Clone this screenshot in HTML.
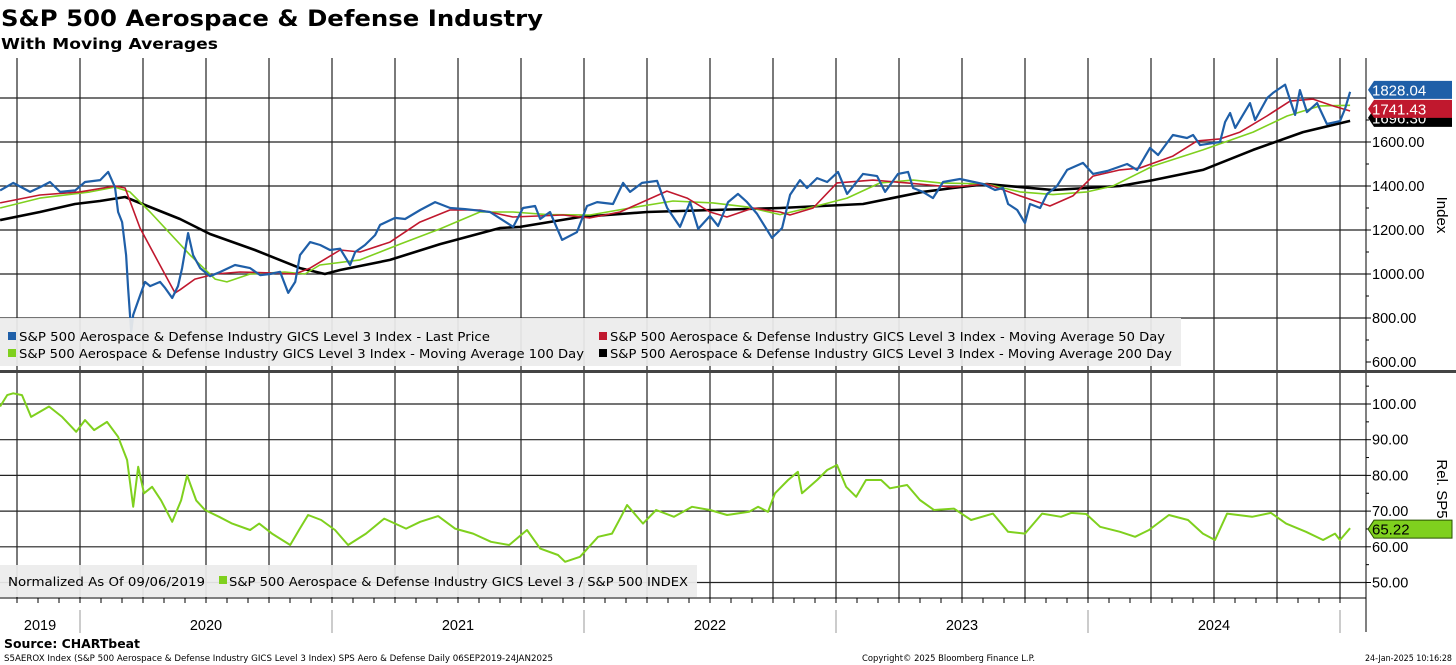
<!DOCTYPE html>
<html><head><meta charset="utf-8"><style>
html,body{margin:0;padding:0;background:#fff;}
svg{display:block;font-family:"Liberation Sans",sans-serif;}
.dv{font-family:"DejaVu Sans","Liberation Sans",sans-serif;}
</style></head><body>
<svg id="chart" width="1456" height="665" viewBox="0 0 1456 665" xmlns="http://www.w3.org/2000/svg">
<text class="dv" x="1" y="26" font-size="22" font-weight="bold" fill="#000" textLength="542" lengthAdjust="spacingAndGlyphs">S&amp;P 500 Aerospace &amp; Defense Industry</text>
<text class="dv" x="1" y="49" font-size="15" font-weight="bold" fill="#000" textLength="217" lengthAdjust="spacingAndGlyphs">With Moving Averages</text>
<g id="grid"></g>
<g id="series"></g>
<g id="axes"></g>
<rect x="0" y="318" width="1181" height="48" fill="#ececec" opacity="0.93"/>
<rect x="8" y="332" width="8" height="8" fill="#1f5fa8"/>
<text class="dv" x="19" y="341" font-size="12.5" fill="#000" textLength="471" lengthAdjust="spacingAndGlyphs">S&amp;P 500 Aerospace &amp; Defense Industry GICS Level 3 Index - Last Price</text>
<rect x="8" y="349" width="8" height="8" fill="#7fd01e"/>
<text class="dv" x="19" y="358" font-size="12.5" fill="#000" textLength="565" lengthAdjust="spacingAndGlyphs">S&amp;P 500 Aerospace &amp; Defense Industry GICS Level 3 Index - Moving Average 100 Day</text>
<rect x="599" y="332" width="8" height="8" fill="#c0182e"/>
<text class="dv" x="610" y="341" font-size="12.5" fill="#000" textLength="555" lengthAdjust="spacingAndGlyphs">S&amp;P 500 Aerospace &amp; Defense Industry GICS Level 3 Index - Moving Average 50 Day</text>
<rect x="599" y="349" width="8" height="8" fill="#000"/>
<text class="dv" x="610" y="358" font-size="12.5" fill="#000" textLength="562" lengthAdjust="spacingAndGlyphs">S&amp;P 500 Aerospace &amp; Defense Industry GICS Level 3 Index - Moving Average 200 Day</text>
<rect x="0" y="370" width="1366" height="3" fill="#444"/>
<rect x="1366" y="370" width="90" height="3" fill="#444"/>
<rect x="0" y="565" width="697" height="32" fill="#ececec" opacity="0.93"/>
<text class="dv" x="8" y="586" font-size="12.5" fill="#000" textLength="197" lengthAdjust="spacingAndGlyphs">Normalized As Of 09/06/2019</text>
<rect x="219" y="576" width="8" height="8" fill="#7fd01e"/>
<text class="dv" x="229" y="586" font-size="12.5" fill="#000" textLength="459" lengthAdjust="spacingAndGlyphs">S&amp;P 500 Aerospace &amp; Defense Industry GICS Level 3 / S&amp;P 500 INDEX</text>
<g id="tags"></g>
<text class="dv" x="4" y="648" font-size="12.5" font-weight="bold" fill="#000" textLength="136" lengthAdjust="spacingAndGlyphs">Source: CHARTbeat</text>
<text class="dv" x="4" y="661" font-size="8.5" fill="#000" textLength="549" lengthAdjust="spacingAndGlyphs">S5AEROX Index (S&amp;P 500 Aerospace &amp; Defense Industry GICS Level 3 Index) SPS Aero &amp; Defense  Daily 06SEP2019-24JAN2025</text>
<text class="dv" x="862" y="661" font-size="8.5" fill="#000" textLength="173" lengthAdjust="spacingAndGlyphs">Copyright© 2025 Bloomberg Finance L.P.</text>
<text class="dv" x="1365" y="661" font-size="8.5" fill="#000" textLength="87" lengthAdjust="spacingAndGlyphs">24-Jan-2025 10:16:28</text>
</svg>
<script>
const priceT=[2019.683,2019.735,2019.802,2019.842,2019.881,2019.921,2019.981,2020.020,2020.080,2020.112,2020.139,2020.151,2020.167,2020.183,2020.191,2020.203,2020.211,2020.239,2020.258,2020.278,2020.318,2020.338,2020.366,2020.389,2020.405,2020.429,2020.449,2020.477,2020.516,2020.556,2020.615,2020.675,2020.715,2020.754,2020.794,2020.826,2020.854,2020.873,2020.913,2020.953,2020.992,2021.032,2021.072,2021.092,2021.131,2021.171,2021.191,2021.250,2021.290,2021.350,2021.409,2021.469,2021.528,2021.568,2021.627,2021.719,2021.758,2021.806,2021.826,2021.865,2021.913,2021.972,2022.012,2022.052,2022.115,2022.155,2022.183,2022.230,2022.290,2022.310,2022.330,2022.381,2022.421,2022.453,2022.500,2022.532,2022.572,2022.611,2022.647,2022.687,2022.746,2022.786,2022.818,2022.857,2022.885,2022.925,2022.965,2023.008,2023.044,2023.107,2023.163,2023.195,2023.246,2023.286,2023.306,2023.345,2023.385,2023.425,2023.492,2023.584,2023.631,2023.663,2023.683,2023.719,2023.750,2023.770,2023.810,2023.838,2023.877,2023.917,2023.980,2024.020,2024.076,2024.155,2024.195,2024.246,2024.278,2024.337,2024.393,2024.417,2024.445,2024.496,2024.524,2024.544,2024.564,2024.584,2024.643,2024.663,2024.711,2024.734,2024.782,2024.802,2024.822,2024.841,2024.869,2024.909,2024.948,2025.000,2025.020,2025.040];
const priceV=[1380,1414,1373,1395,1418,1373,1380,1418,1427,1464,1394,1282,1236,1086,936,736,814,904,964,945,964,936,891,945,1027,1186,1086,1027,990,1009,1041,1027,995,1000,1010,914,964,1086,1145,1132,1109,1115,1041,1100,1132,1177,1223,1255,1250,1291,1327,1300,1295,1290,1282,1214,1300,1309,1250,1282,1155,1190,1309,1327,1318,1414,1373,1414,1423,1360,1300,1214,1327,1205,1264,1218,1327,1364,1327,1273,1164,1209,1360,1427,1391,1436,1418,1464,1364,1455,1445,1373,1455,1464,1391,1373,1345,1418,1432,1409,1382,1391,1318,1291,1232,1318,1300,1364,1400,1473,1505,1455,1468,1500,1473,1573,1541,1632,1618,1632,1586,1595,1600,1691,1732,1664,1777,1700,1800,1823,1861,1791,1723,1836,1736,1777,1682,1695,1750,1828];
const ma50T=[2019.683,2019.841,2020.000,2020.139,2020.179,2020.238,2020.317,2020.377,2020.397,2020.456,2020.536,2020.635,2020.754,2020.853,2020.913,2021.032,2021.111,2021.230,2021.349,2021.468,2021.587,2021.718,2021.917,2022.024,2022.143,2022.329,2022.409,2022.500,2022.567,2022.671,2022.778,2022.817,2022.909,2023.004,2023.147,2023.282,2023.413,2023.464,2023.599,2023.730,2023.849,2023.940,2024.020,2024.127,2024.206,2024.337,2024.433,2024.524,2024.603,2024.710,2024.802,2024.893,2024.972,2025.040];
const ma50V=[1323,1359,1373,1400,1391,1209,1041,914,928,977,1000,1009,1005,1000,1027,1109,1100,1145,1236,1291,1291,1259,1268,1255,1282,1377,1345,1282,1259,1300,1282,1268,1300,1414,1427,1414,1400,1395,1409,1355,1309,1355,1445,1473,1482,1536,1605,1614,1645,1718,1786,1795,1764,1741];
const ma100T=[2019.683,2019.841,2020.040,2020.139,2020.198,2020.278,2020.437,2020.536,2020.583,2020.675,2020.813,2020.893,2020.952,2021.111,2021.270,2021.429,2021.587,2021.718,2021.853,2022.024,2022.183,2022.353,2022.512,2022.647,2022.778,2022.909,2023.044,2023.175,2023.306,2023.413,2023.599,2023.730,2023.861,2023.996,2024.099,2024.258,2024.456,2024.655,2024.790,2024.921,2025.040];
const ma100V=[1300,1345,1373,1395,1373,1282,1086,977,964,1000,1009,1000,1041,1064,1136,1205,1282,1282,1270,1268,1300,1332,1323,1305,1270,1305,1345,1414,1427,1414,1409,1373,1361,1373,1400,1491,1564,1645,1718,1764,1767];
const ma200T=[2019.683,2019.841,2019.980,2020.079,2020.179,2020.218,2020.397,2020.516,2020.694,2020.873,2020.972,2021.032,2021.230,2021.429,2021.667,2021.746,2021.984,2022.250,2022.512,2022.778,2023.107,2023.345,2023.464,2023.599,2023.730,2023.861,2023.996,2024.127,2024.258,2024.456,2024.655,2024.853,2025.040];
const ma200V=[1245,1282,1318,1332,1350,1332,1250,1182,1109,1027,1000,1018,1064,1136,1209,1214,1259,1282,1291,1300,1318,1373,1391,1409,1395,1382,1391,1400,1427,1473,1564,1645,1696];
const relT=[2019.683,2019.711,2019.735,2019.770,2019.806,2019.877,2019.929,2019.985,2020.020,2020.056,2020.107,2020.151,2020.187,2020.211,2020.231,2020.254,2020.286,2020.322,2020.366,2020.401,2020.425,2020.461,2020.496,2020.552,2020.604,2020.675,2020.711,2020.762,2020.834,2020.869,2020.905,2020.957,2021.012,2021.064,2021.135,2021.207,2021.294,2021.350,2021.421,2021.488,2021.560,2021.631,2021.703,2021.774,2021.826,2021.897,2021.925,2021.984,2022.056,2022.111,2022.147,2022.171,2022.234,2022.286,2022.357,2022.429,2022.500,2022.568,2022.655,2022.691,2022.730,2022.758,2022.810,2022.849,2022.865,2022.925,2022.965,2023.004,2023.040,2023.080,2023.119,2023.179,2023.214,2023.282,2023.333,2023.389,2023.468,2023.536,2023.623,2023.683,2023.750,2023.818,2023.893,2023.933,2023.993,2024.048,2024.127,2024.187,2024.242,2024.321,2024.397,2024.456,2024.504,2024.552,2024.651,2024.726,2024.786,2024.865,2024.933,2024.980,2025.000,2025.040];
const relV=[99.3,102.5,103,102.5,96.4,99.3,96.4,92.2,95.5,92.7,95,90.8,84.3,71.2,82.4,75,76.8,73,67,73,80,73,70.3,68.4,66.5,64.7,66.5,63.7,60.5,64.7,68.9,67.5,64.7,60.5,63.7,67.9,65.1,67,68.6,65.1,63.7,61.4,60.5,64.7,59.5,57.7,55.8,57.2,62.8,63.7,68.4,71.7,66.5,70.3,68.4,71.2,70.3,68.9,69.8,71.2,69.8,75,78.7,81,75,78.7,81.5,82.9,76.8,74,78.7,78.7,76.4,77.3,73.1,70.3,70.7,67.5,69.3,64.2,63.7,69.3,68.4,69.5,69.2,65.6,64.2,62.8,64.7,68.9,67.5,63.7,61.9,69.3,68.4,69.5,66.5,64.2,61.9,63.7,61.9,65.2];
const topTicks=[1600,1400,1200,1000,800,600];
const topGrid=[1800,1600,1400,1200,1000,800];
const botTicks=[100,90,80,70,60,50];
const years=["2019","2020","2021","2022","2023","2024"];
const yearStart=[2019.683,2020,2021,2022,2023,2024];
const yearEnd=[2020,2021,2022,2023,2024,2025.06];
const tags=[{v:1696.30,label:"1696.30",c:"#000"},{v:1741.43,label:"1741.43",c:"#c0182e"},{v:1828.04,label:"1828.04",c:"#1f5fa8"}];
const relLast=65.22;

const NS="http://www.w3.org/2000/svg";
const X=t=>80+(t-2020)*252;
const YT=v=>142+(1600-v)*0.22;
const YB=v=>404+(100-v)*3.57;
const AX=1366;
function mk(tag,attrs,parent){const e=document.createElementNS(NS,tag);for(const k in attrs)e.setAttribute(k,attrs[k]);parent.appendChild(e);return e;}
const grid=document.getElementById('grid'),ser=document.getElementById('series'),axes=document.getElementById('axes'),tg=document.getElementById('tags');

for(let q=2019.75;q<=2025.01;q+=0.25){
  const x=X(q);
  let l=mk('line',{x1:x,y1:58,x2:x,y2:370,stroke:'#222','stroke-width':1.2},grid);
  
  
  l=mk('line',{x1:x,y1:373,x2:x,y2:598,stroke:'#222','stroke-width':1.2},grid);
  
  
}
topGrid.forEach(v=>{
  const l=mk('line',{x1:0,y1:YT(v),x2:AX,y2:YT(v),stroke:'#222','stroke-width':1.2},grid);
  
  
});
botTicks.forEach(v=>{
  const l=mk('line',{x1:0,y1:YB(v),x2:AX,y2:YB(v),stroke:'#222','stroke-width':1.2},grid);
  
  
});

function line(T,V,Y,color,w,name){
  const d=T.map((t,i)=>(i?'L':'M')+X(t).toFixed(1)+','+Y(V[i]).toFixed(1)).join('');
  const p=mk('path',{d:d,fill:'none',stroke:color,'stroke-width':w,'stroke-linejoin':'round'},ser);
  
  
}
line(ma200T,ma200V,YT,'#000',2.6,'ma200-line');
line(ma100T,ma100V,YT,'#7fd01e',1.6,'ma100-line');
line(ma50T,ma50V,YT,'#c0182e',1.6,'ma50-line');
line(priceT,priceV,YT,'#1f5fa8',2.2,'price-line');
line(relT,relV,YB,'#7fd01e',2,'relative-line');

let a=mk('line',{x1:AX,y1:58,x2:AX,y2:632,stroke:'#000','stroke-width':1},axes);


topTicks.forEach(v=>{
  mk('line',{x1:AX,y1:YT(v),x2:AX+5,y2:YT(v),stroke:'#000'},axes);
  const t=mk('text',{x:AX+6,y:YT(v)+5,'font-size':14.5,fill:'#000'},axes);
  t.textContent=v.toFixed(2);
  
  
});
for(let v=700;v<=1800;v+=200){mk('line',{x1:AX,y1:YT(v),x2:AX+3,y2:YT(v),stroke:'#000'},axes);}
botTicks.forEach(v=>{
  mk('line',{x1:AX,y1:YB(v),x2:AX+5,y2:YB(v),stroke:'#000'},axes);
  const t=mk('text',{x:AX+6,y:YB(v)+5,'font-size':14.5,fill:'#000'},axes);
  t.textContent=v.toFixed(2);
  
  
});
for(let v=55;v<=105;v+=10){mk('line',{x1:AX,y1:YB(v),x2:AX+3,y2:YB(v),stroke:'#000'},axes);}
let tt=mk('text',{x:1437,y:215,'font-size':15,fill:'#000',transform:'rotate(90 1437 215)','text-anchor':'middle'},axes);
tt.textContent='Index';


tt=mk('text',{x:1437,y:489,'font-size':15,fill:'#000',transform:'rotate(90 1437 489)','text-anchor':'middle'},axes);
tt.textContent='Rel. SP5';


mk('line',{x1:0,y1:598,x2:AX,y2:598,stroke:'#000'},axes);
for(let m=2019+8/12;m<=2025.07;m+=1/12){mk('line',{x1:X(m),y1:598,x2:X(m),y2:603,stroke:'#000'},axes);}
years.forEach((y,i)=>{
  if(i>0){mk('line',{x1:X(yearStart[i]),y1:610,x2:X(yearStart[i]),y2:633,stroke:'#999'},axes);}
  const t=mk('text',{x:(X(yearStart[i])+Math.min(X(yearEnd[i]),1340))/2,y:630,'font-size':14.5,fill:'#000','text-anchor':'middle'},axes);
  t.textContent=y;
  
  
});
mk('line',{x1:X(2025),y1:610,x2:X(2025),y2:633,stroke:'#999'},axes);

function tag(yc,label,color,name){
  const g=mk('g',{},tg);
  
  
  mk('path',{d:`M${AX+2},${yc} L${AX+8},${yc-9} L1452,${yc-9} L1452,${yc+9} L${AX+8},${yc+9} Z`,fill:color,stroke:color==='#7fd01e'?'#2a5000':'none'},g);
  const t=mk('text',{x:1372,y:yc+5.5,'font-size':15,fill:color==='#7fd01e'?'#000':'#fff'},g);
  t.textContent=label;
}
tag(YT(tags[0].v)-3,tags[0].label,tags[0].c,'ma200-value-tag');
tag(YT(tags[1].v)-2,tags[1].label,tags[1].c,'ma50-value-tag');
tag(YT(tags[2].v)-2,tags[2].label,tags[2].c,'price-value-tag');
tag(YB(relLast)+1,relLast.toFixed(2),'#7fd01e','relative-value-tag');
</script>
</body></html>
